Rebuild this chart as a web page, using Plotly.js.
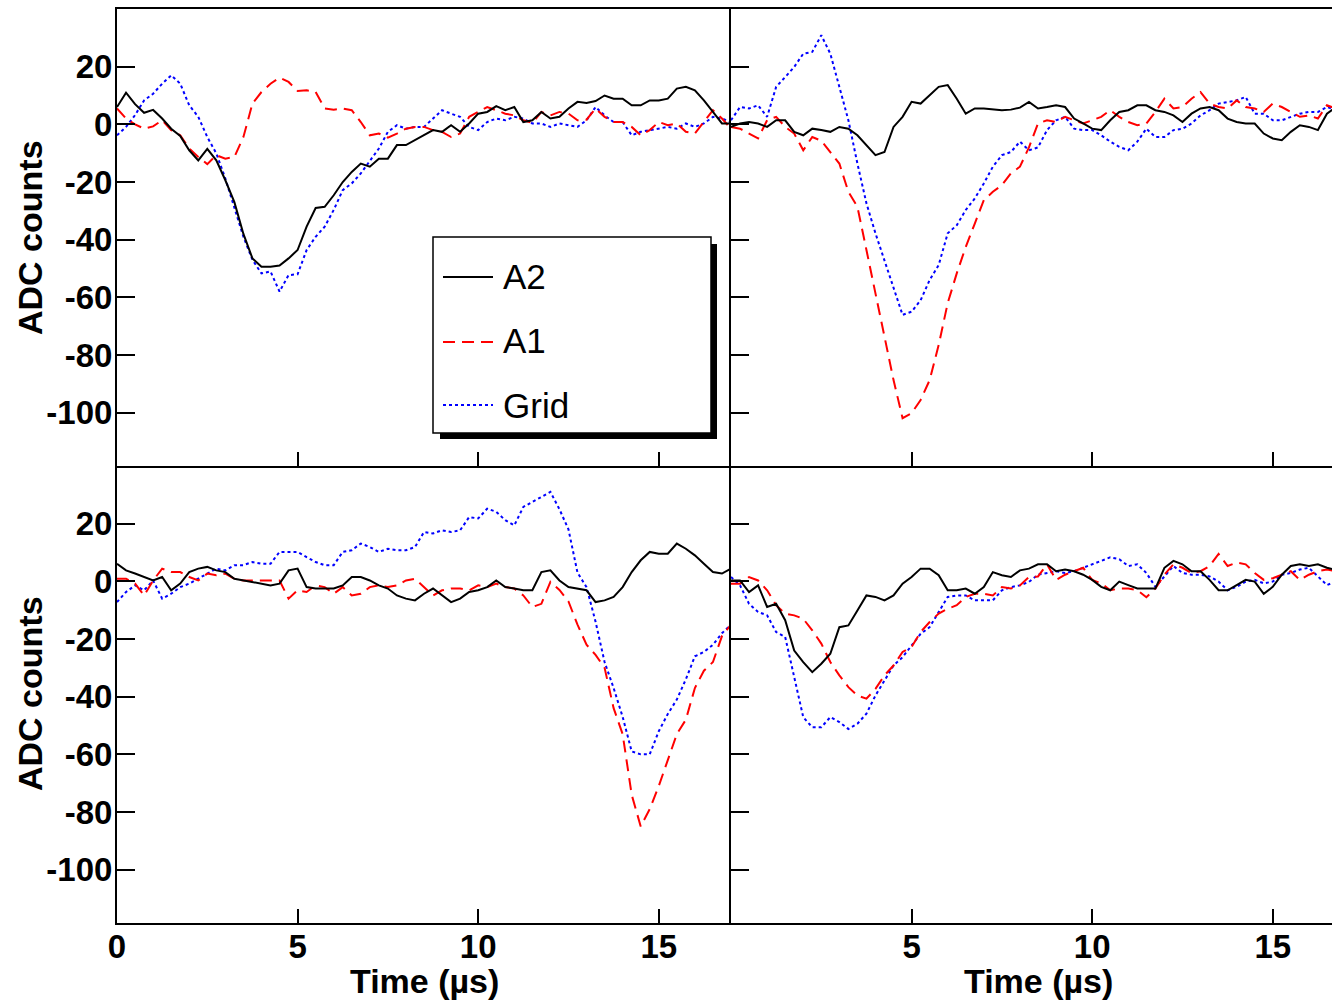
<!DOCTYPE html>
<html>
<head>
<meta charset="utf-8">
<script src="https://cdn.plot.ly/plotly-3.0.1.min.js"></script>
<style>
html,body{margin:0;padding:0;overflow:hidden;background:#fff;}
#chart{width:1345px;height:1003px;}
</style>
</head>
<body>
<div id="chart"></div>
<script>
// Time axis (µs)
const TIME = [0,0.25,0.5,0.75,1,1.25,1.5,1.75,2,2.25,2.5,2.75,3,3.25,3.5,3.75,4,4.25,4.5,4.75,5,5.25,5.5,5.75,6,6.25,6.5,6.75,7,7.25,7.5,7.75,8,8.25,8.5,8.75,9,9.25,9.5,9.75,10,10.25,10.5,10.75,11,11.25,11.5,11.75,12,12.25,12.5,12.75,13,13.25,13.5,13.75,14,14.25,14.5,14.75,15,15.25,15.5,15.75,16,16.25,16.5,16.75,17];

// Top-left event
const TL_A2 = [6,11,7,4,5,2,-1.5,-4,-9,-12.5,-8.5,-12.5,-19.4,-27,-38,-46.5,-49.4,-49.4,-49,-46.5,-43.6,-35.5,-29,-28.6,-24.6,-20,-16.5,-13.6,-14.7,-11.9,-11.9,-7.2,-7.2,-5.5,-3.8,-2,-2.6,-0.3,-2.6,0.3,3.7,4.3,6.3,4.9,6,0.8,1.4,4.3,2,2.6,5.5,7.8,7.4,8.1,10,8.9,8.9,6.6,6.6,8.3,8.3,8.9,12.4,13,11.8,8.3,4.3,0.3,0.3];
const TL_A1 = [5.5,2,0,-1.5,-0.7,1.4,-2,-3.8,-8.4,-11.3,-13.8,-10.7,-11.9,-11.3,-4.4,7.2,11.2,14.1,16.2,14.7,11.6,11.8,11.2,5.5,5.1,5.5,4.9,0.8,-3.8,-3.2,-4.6,-3.2,-1.5,-0.9,-0.9,-2,-2.6,-4.4,-3.2,2.6,4.3,6,4.9,3.7,3.1,1.4,0.5,4.3,3.1,4.3,3.7,1.4,1.6,5.5,2.6,0.8,0.8,-0.9,-3.8,-2,0.8,-0.3,0.3,-2.6,-3.2,0.8,4.9,2,-1.5];
const TL_GRID = [-3.8,-0.9,3.2,8.3,10.6,14.1,17,14.1,6.6,2.6,-4.4,-10.1,-18.8,-28.6,-39,-47,-51.7,-51,-58,-52.3,-52,-43.6,-39,-35.5,-29.7,-22.8,-20.5,-17,-12.5,-8.4,-2.6,-0.3,-1.5,-0.9,-0.9,2,4.9,3.7,2.6,-0.9,-2,0.8,2,1.4,2.6,2,0.3,0.3,-0.9,0.3,-0.3,-0.9,1.4,6,3.1,0.8,0.8,-3.8,-2.6,-2,-1.5,-0.9,-1.5,0.3,-0.9,0.3,2.6,2,0.8];

// Top-right event
const TR_A2 = [-0.9,0.3,0.8,0.3,-0.9,1.4,1.4,-2.6,-3.8,-1.5,-2,-2.6,-0.9,-1.5,-3.8,-7.2,-10.7,-9.6,-0.9,2.6,7.8,7.2,10.1,13,13.6,8.9,3.7,5.5,5.5,5.1,4.9,5.1,5.8,7.8,5.5,6,6.6,6,2,0.3,-1.5,-2,1.4,4.3,4.9,6.6,6.6,4.9,4.3,3.1,0.8,3.7,5.5,6,4.9,2,0.8,0.3,0.3,-3.2,-4.9,-5.5,-2.6,-0.3,-0.9,-2,3.7,6,5];
const TR_A1 = [-0.9,-1.5,-3.2,-4.9,1.4,2.6,-0.9,-3.2,-9,-4.4,-5.7,-9.6,-13.6,-23.4,-28.6,-43.6,-58.6,-74.8,-88.7,-101.9,-100.2,-95.6,-88.7,-76.5,-62,-51.7,-42.5,-34.4,-26.3,-23.4,-21.1,-17,-14.7,-8,0.3,1.4,0.8,2.6,1.4,0.3,1.4,2.6,4.9,2.6,0.8,-0.3,0.3,4.3,8.9,5.5,6,8.9,11.2,7.2,6,5.5,8.3,6,5.5,4.3,7.2,6,4.3,2.6,3.1,2,6.6,5.5,5];
const TR_GRID = [1.4,6,5.5,6.6,2.6,13,16.4,19.9,24.5,25.1,30.9,24.5,13,1.4,-13.6,-27.4,-37.8,-47,-56.3,-66.1,-65,-61,-54,-48.8,-37.8,-35,-29.7,-25.7,-20.5,-14.7,-10.7,-9.6,-6,-9,-8,-2,1.4,2.6,-1.5,-2,-2,-3.8,-6,-7.8,-9,-6,-1.5,-4.4,-4.4,-2,-1.5,0.3,3.1,4.9,7.2,7.8,8.3,9.5,3.7,3.7,1.4,1.4,2.6,3.7,4.3,4.3,6,5,5];

// Bottom-left event
const BL_A2 = [6.1,3.8,2.7,1.5,0.3,1.5,-3.1,-0.8,3.2,4.4,5,3.8,3.2,0.9,0.3,-0.2,-0.8,-1.4,-0.8,3.8,4.4,-2,-2.5,-2.5,-2.5,-1.4,1.5,1.5,0.3,-1.4,-2.5,-4.9,-6,-6.6,-4.3,-2.5,-4.9,-7.2,-6,-3.7,-3.1,-2,0.3,-2,-2.5,-3.1,-3.1,3.2,3.8,0.3,-2,-2.5,-3.1,-7.2,-6.6,-5.4,-2,3.2,7.3,10.2,9.6,9.6,13.1,11.3,9,6.1,3.2,2.7,4.4];
const BL_A1 = [0.9,0.9,-0.8,-4.9,0.3,4.4,3.2,3.2,1.5,0.3,2.7,2.1,2.7,0.9,0.3,0.3,0.3,0.3,0.3,-6,-3.1,-3.7,-1.4,-2,-4.3,-2,-4.9,-4.3,-2,-1.4,-2,-1.4,0.3,0.9,-2,-4.9,-3.1,-2.5,-2.5,-3.1,-1.4,-2,-0.8,-2,-2.5,-4.9,-8.9,-7.8,-0.2,-3,-7,-15,-22,-25.5,-30,-44,-53,-74,-85,-79,-71,-62,-53,-48,-37,-31,-28,-19,-15];
const BL_GRID = [-7.2,-3.7,-1.4,-3.1,0.3,-6,-4.3,-2,-0.8,0.9,2.7,4.4,3.8,5.6,5.6,6.7,6.1,6.1,10.2,10.2,10.2,8.4,6.7,5.6,5.6,10.2,10.8,13.1,11.9,10.2,11.3,10.8,10.8,11.9,17.1,16.6,17.7,17.1,17.7,22.3,21.8,25.2,24.1,21.2,19.4,25.8,27.5,29.3,31,25,18,3,-2,-14,-28,-37,-47,-59,-60,-60,-52,-46,-41,-34,-26,-24.5,-22,-18,-15];

// Bottom-right event
const BR_A2 = [0.3,0.3,-3.7,-1.4,-8.9,-7.8,-13.5,-24,-28,-31.5,-28.6,-25.1,-15.9,-15.3,-10.1,-4.9,-5.4,-6.6,-4.9,-0.8,1.5,4.4,4.4,2.1,-3.1,-3.1,-2.5,-4.3,-2,3.2,2.1,1.5,3.8,4.4,5.9,5.9,3.5,4.1,3.5,2.3,0.5,-1.9,-3.1,-0.1,-1.3,-2.5,-2.5,-2.5,4.7,7.1,5.9,3.5,3.5,0.5,-3.1,-3.1,-1.3,0.5,-0.1,-4.3,-1.9,2.3,5.3,5.9,5.3,5.9,4.7,4,3];
const BR_A1 = [-0.8,-0.8,1.5,0.3,-3.1,-8.3,-11.2,-11.8,-13,-17,-21.6,-28,-32.6,-36.7,-39.6,-40.7,-37.3,-32.6,-29.2,-24.5,-22.8,-17.6,-14.1,-11.2,-9.5,-8.3,-5.4,-4.3,-4.3,-4.9,-2,-2.5,-1.4,1.5,1.7,5.9,0.5,2.3,3.5,4.7,0.5,-0.7,-3.1,-2.5,-2.5,-3.1,-5.5,-2.5,2.3,5.9,4.7,2.9,3.5,5.3,9.5,5.3,6.5,5.9,2.9,0.5,1.1,2.3,3.5,0.5,2.3,3.5,4.1,3.5,3];
const BR_GRID = [1.5,-1.4,-7.8,-10.6,-11.8,-17.6,-19.3,-33.2,-47.1,-50.6,-50.6,-47.1,-48.8,-51.2,-49.4,-45.9,-39.6,-34.4,-29.2,-26.3,-22.2,-18.2,-15.9,-10.6,-5.4,-4.9,-4.9,-6.6,-6.6,-6.6,-3.1,-2,-1.4,-0.2,2.3,2.9,3.5,2.9,3.5,4.7,5.9,7.1,8.3,7.7,5.3,5.9,2.9,-1.9,1.7,5.3,2.9,2.3,2.3,1.7,-0.1,-3.1,-1.9,-0.1,0.5,-0.7,-0.1,2.3,2.9,4.1,4.7,1.7,-1.3,0,0];

const SERIES_NAMES = ['A2','A1','Grid'];
const X_TICKS = [0,5,10,15];
const X_TICK_LABELS = ['0','5','10','15'];
const X_TICK_LABELS_RIGHT = ['','5','10','15'];
const Y_TICKS = [-100,-80,-60,-40,-20,0,20];
const Y_TICK_LABELS = ['-100','-80','-60','-40','-20','0','20'];
const X_TITLE = 'Time (µs)';
const Y_TITLE = 'ADC counts';

const FONT = 'Liberation Sans, Arial, Helvetica, sans-serif';
const STYLES = {
  A2:   {color:'#000000', width:2, dash:'solid'},
  A1:   {color:'#ff0000', width:2, dash:'12px,7px'},
  Grid: {color:'#0000ff', width:2, dash:'3px,3px'}
};

const panels = [
  {xa:'x',  ya:'y',  data:[TL_A2, TL_A1, TL_GRID]},
  {xa:'x2', ya:'y2', data:[TR_A2, TR_A1, TR_GRID]},
  {xa:'x3', ya:'y3', data:[BL_A2, BL_A1, BL_GRID]},
  {xa:'x4', ya:'y4', data:[BR_A2, BR_A1, BR_GRID]}
];

const traces = [];
panels.forEach(p => {
  [2,1,0].forEach(i => {
    const nm = SERIES_NAMES[i];
    traces.push({
      type:'scatter', mode:'lines', name:nm,
      x: TIME, y: p.data[i], xaxis:p.xa, yaxis:p.ya,
      line:{color:STYLES[nm].color, width:STYLES[nm].width, dash:STYLES[nm].dash, shape:'linear'},
      showlegend:false, hoverinfo:'skip'
    });
  });
});

const W = 1345, H = 1003, ML = 117, MR = 0, MT = 9, MB = 80;
const PW = W - ML - MR, PH = H - MT - MB;
const px = v => (v - ML) / PW;
const py = v => (H - MB - v) / PH;

const tickFont = {family:FONT, size:33, color:'#000', weight:700};

function xAxis(domain, anchor, labels, mirror, text) {
  return {domain:domain, anchor:anchor, range:[0,17], showline:true, mirror:mirror,
    linecolor:'#000', linewidth:2, ticks:'inside', ticklen:14, tickwidth:2, tickcolor:'#000',
    tickmode:'array', tickvals:X_TICKS, ticktext:text || X_TICK_LABELS,
    showgrid:false, zeroline:false, showticklabels:labels, tickfont:tickFont,
    ticklabelstandoff:-7, fixedrange:true};
}
function yAxis(domain, anchor, labels, mirror) {
  return {domain:domain, anchor:anchor, range:[-118.5,40], showline:true, mirror:mirror,
    linecolor:'#000', linewidth:2, ticks:'inside', ticklen:18, tickwidth:2, tickcolor:'#000',
    tickmode:'array', tickvals:Y_TICKS, ticktext:Y_TICK_LABELS,
    showgrid:false, zeroline:false, showticklabels:labels, tickfont:tickFont,
    ticklabelstandoff:-4, fixedrange:true};
}

const titleFont = {family:FONT, size:34, color:'#000', weight:700};
const legFont = {family:FONT, size:35, color:'#000'};

const annotations = [
  {text:Y_TITLE, xref:'paper', yref:'paper', x:px(30), y:py(238), textangle:-90, showarrow:false, xanchor:'center', yanchor:'middle', font:titleFont},
  {text:Y_TITLE, xref:'paper', yref:'paper', x:px(30), y:py(694), textangle:-90, showarrow:false, xanchor:'center', yanchor:'middle', font:titleFont},
  {text:X_TITLE, xref:'paper', yref:'paper', x:px(424), y:py(981), showarrow:false, xanchor:'center', yanchor:'middle', font:titleFont},
  {text:X_TITLE, xref:'paper', yref:'paper', x:px(1038), y:py(981), showarrow:false, xanchor:'center', yanchor:'middle', font:titleFont},
  {text:SERIES_NAMES[0], xref:'paper', yref:'paper', x:px(501), y:py(276), showarrow:false, xanchor:'left', yanchor:'middle', font:legFont},
  {text:SERIES_NAMES[1], xref:'paper', yref:'paper', x:px(501), y:py(341), showarrow:false, xanchor:'left', yanchor:'middle', font:legFont},
  {text:SERIES_NAMES[2], xref:'paper', yref:'paper', x:px(501), y:py(405), showarrow:false, xanchor:'left', yanchor:'middle', font:legFont}
];

const shapes = [
  {type:'rect', xref:'paper', yref:'paper', x0:px(440), x1:px(717), y0:py(244), y1:py(439), fillcolor:'#000', line:{width:0}, layer:'above'},
  {type:'rect', xref:'paper', yref:'paper', x0:px(433), x1:px(711), y0:py(237), y1:py(433), fillcolor:'#fff', line:{color:'#000', width:1.5}, layer:'above'},
  {type:'line', xref:'paper', yref:'paper', x0:px(443), x1:px(493), y0:py(277), y1:py(277), line:{color:STYLES.A2.color, width:2, dash:STYLES.A2.dash}, layer:'above'},
  {type:'line', xref:'paper', yref:'paper', x0:px(443), x1:px(493), y0:py(342), y1:py(342), line:{color:STYLES.A1.color, width:2, dash:STYLES.A1.dash}, layer:'above'},
  {type:'line', xref:'paper', yref:'paper', x0:px(443), x1:px(493), y0:py(405), y1:py(405), line:{color:STYLES.Grid.color, width:2, dash:STYLES.Grid.dash}, layer:'above'}
];

const layout = {
  width:W, height:H,
  margin:{l:ML, r:MR, t:MT, b:MB, pad:0},
  paper_bgcolor:'#fff', plot_bgcolor:'#fff',
  showlegend:false,
  font:{family:FONT, color:'#000'},
  // top-left
  xaxis:  xAxis([0,0.5],'y', false, true),
  yaxis:  yAxis([0.5,1],'x', true, false),
  // top-right
  xaxis2: xAxis([0.5,1],'y2', false, true),
  yaxis2: yAxis([0.5,1],'x2', false, true),
  // bottom-left
  xaxis3: xAxis([0,0.5],'y3', true, false),
  yaxis3: yAxis([0,0.5],'x3', true, false),
  // bottom-right
  xaxis4: xAxis([0.5,1],'y4', true, false, X_TICK_LABELS_RIGHT),
  yaxis4: yAxis([0,0.5],'x4', false, true),
  annotations:annotations,
  shapes:shapes
};

Plotly.newPlot('chart', traces, layout, {displayModeBar:false, staticPlot:true});
</script>
</body>
</html>
